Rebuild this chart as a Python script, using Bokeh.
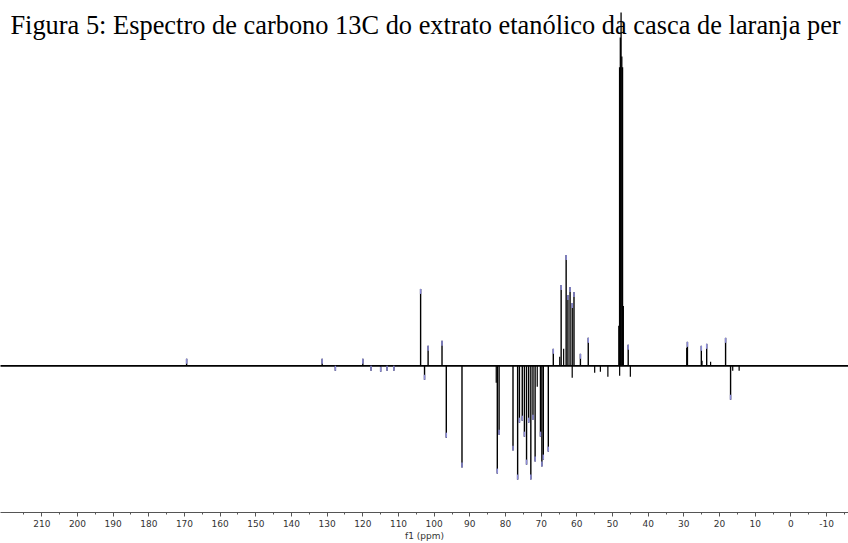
from bokeh.plotting import figure
from bokeh.models import Range1d, FixedTicker, Label
from bokeh.embed import file_html
from bokeh.resources import INLINE

TITLE = "Figura 5: Espectro de carbono 13C do extrato etanólico da casca de laranja per"
X_LABEL = "f1 (ppm)"
major_ticks = [210, 200, 190, 180, 170, 160, 150, 140, 130, 120, 110, 100, 90, 80,
               70, 60, 50, 40, 30, 20, 10, 0, -10]
minor_ticks = [215, 205, 195, 185, 175, 165, 155, 145, 135, 125, 115, 105, 95, 85,
               75, 65, 55, 45, 35, 25, 15, 5, -5, -15]

# picked peaks (with peak-pick markers): chemical shift (ppm) and intensity
peak_ppm = [169.4, 131.4, 127.7, 120.0, 117.7, 115.0, 113.2, 111.3,
            103.8, 102.7, 101.7, 97.8, 96.6, 92.2, 82.3, 81.8, 77.9, 76.6, 76.1,
            75.3, 74.7, 74.1, 73.5, 72.9, 72.3, 71.7, 70.2, 69.8, 69.4, 68.0,
            66.6, 64.4, 63.0, 62.5, 61.9, 61.3, 60.8, 59.0, 56.8, 45.6,
            29.0, 25.1, 23.6, 18.3, 16.9]
peak_int = [7, 7, -5, 7, -5, -6, -5, -5,
            77, -14, 20, 25, -72, -102, -108, -69, -85, -114, -57,
            -55, -71, -99, -57, -114, -54, -96, -71, -101, -94, -86,
            17, 81, 111, 71, 79, 63, 74, 12, 28, 21,
            24, 20, 22, 28, -34]

# small unpicked lines
minor_ppm = [82.6, 71.1, 64.8, 63.7, 61.3, 55.0, 53.4, 51.3, 48.0, 45.0,
             29.2, 24.9, 22.5, 16.3, 14.5]
minor_int = [-17, -21, 9, 17, -12, -7, -6, -11, -10, -11,
             18, 5, 4, -5, -5]

# solvent multiplet
solvent_ppm = [48.23, 48.02, 47.81, 47.60, 47.39, 47.18, 46.97]
solvent_int = [40, 299, 329, 354, 310, 299, 60]

baseline_ppm = [223, -18]
baseline_int = [0, 0]

FRAME_BOTTOM = 513   # canvas y of the axis line
BASE_Y = 366         # canvas y of the spectrum baseline

p = figure(width=848, height=543, output_backend="svg", toolbar_location=None,
           x_range=Range1d(221.58, -16.16),
           y_range=Range1d(-(FRAME_BOTTOM - BASE_Y), BASE_Y),
           y_axis_location=None, min_border_left=0, min_border_right=0,
           min_border_top=0, min_border_bottom=543 - FRAME_BOTTOM,
           outline_line_color=None)
p.xgrid.visible = False
p.ygrid.visible = False
p.background_fill_color = "white"
p.border_fill_color = "white"

# baseline
p.line(baseline_ppm, baseline_int, line_color="black", line_width=1.8)

zeros_p = [0] * len(peak_ppm)
zeros_m = [0] * len(minor_ppm)
zeros_s = [0] * len(solvent_ppm)

p.segment(x0=minor_ppm, y0=zeros_m, x1=minor_ppm, y1=minor_int,
          line_color="black", line_width=1.2)
p.segment(x0=peak_ppm, y0=zeros_p, x1=peak_ppm, y1=peak_int,
          line_color="black", line_width=1.4)
p.segment(x0=solvent_ppm, y0=zeros_s, x1=solvent_ppm, y1=solvent_int,
          line_color="black", line_width=1.3)

# peak pick markers at the tips
MARK = 5
tip_start = [v - MARK if v > 0 else v + MARK for v in peak_int]
p.segment(x0=peak_ppm, y0=tip_start, x1=peak_ppm, y1=peak_int,
          line_color="#8b8bd8", line_width=1.5)

ax = p.xaxis[0]
ax.ticker = FixedTicker(ticks=major_ticks, minor_ticks=minor_ticks)
ax.major_label_overrides = {-10: "-10"}
ax.axis_line_color = "#555555"
ax.major_tick_line_color = "#555555"
ax.minor_tick_line_color = "#555555"
ax.major_tick_out = 4
ax.major_tick_in = 0
ax.minor_tick_out = 2
ax.minor_tick_in = 0
ax.major_label_standoff = 3
ax.major_label_text_font = "DejaVu Sans"
ax.major_label_text_font_size = "9px"
ax.major_label_text_color = "#333333"
ax.axis_label = X_LABEL
ax.axis_label_text_font = "DejaVu Sans"
ax.axis_label_text_font_size = "9px"
ax.axis_label_text_font_style = "normal"
ax.axis_label_text_color = "#333333"
ax.axis_label_standoff = 1

title = Label(x=218.8, y=BASE_Y - 25, text=TITLE, text_font="Liberation Serif",
              text_font_size="26.4px", text_baseline="alphabetic",
              text_color="black")
p.add_layout(title)

open("out.html", "w").write(file_html(p, INLINE))
